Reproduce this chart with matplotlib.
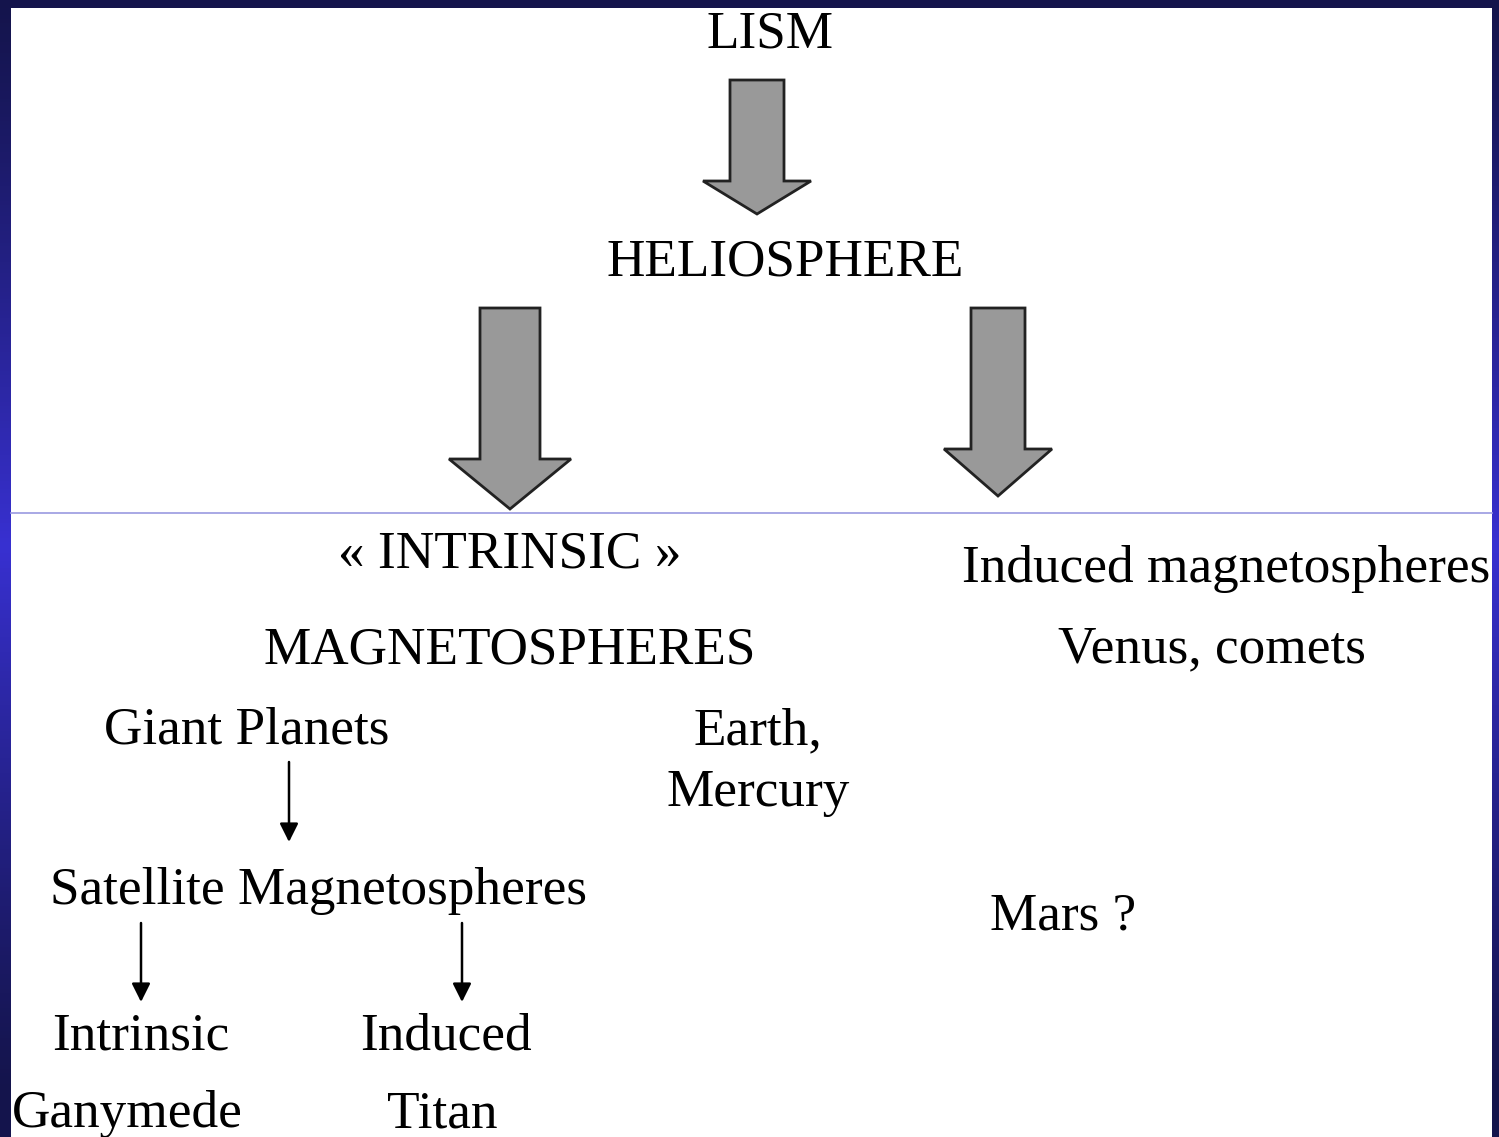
import numpy as np
import matplotlib
matplotlib.use('Agg')
import matplotlib.pyplot as plt
from matplotlib.patches import Polygon, Rectangle

W, H = 1499, 1137
plt.rcParams['font.family'] = ['Liberation Serif', 'DejaVu Serif']

# text labels: (text, x, y_baseline, ha)
labels = [
    ("LISM", 770, 47, 'center'),
    ("HELIOSPHERE", 785, 275, 'center'),
    ("« INTRINSIC »", 510, 567, 'center'),
    ("MAGNETOSPHERES", 510, 664, 'center'),
    ("Giant Planets", 104, 744, 'left'),
    ("Earth,", 694, 744, 'left'),
    ("Mercury", 667, 806, 'left'),
    ("Satellite Magnetospheres", 50, 904, 'left'),
    ("Intrinsic", 52, 1049, 'left'),
    ("Induced", 360, 1049, 'left'),
    ("Ganymede", 12, 1127, 'left'),
    ("Titan", 387, 1127, 'left'),
    ("Induced magnetospheres", 962, 582, 'left'),
    ("Venus, comets", 1058, 662, 'left'),
    ("Mars ?", 990, 929, 'left'),
]

# block arrows: (x_center, top, head_base, tip, shaft_halfwidth, head_halfwidth)
block_arrows = [
    (757, 80, 181, 214, 27, 54),
    (510, 308, 459, 509, 30, 61),
    (998, 308, 449, 496, 27, 54),
]

# thin arrows: (x, y_start, y_end)
thin_arrows = [
    (289, 762, 842),
    (141, 923, 1002),
    (462, 923, 1002),
]

fig = plt.figure(figsize=(W / 100, H / 100), dpi=100)
ax = fig.add_axes([0, 0, 1, 1])
ax.set_xlim(0, W)
ax.set_ylim(H, 0)
ax.axis('off')

# vertical blue gradient: dark at top and bottom, bright in the middle
y = np.linspace(0, 1, 300)
t = np.clip(1 - np.abs(y - 0.48) / 0.48, 0, 1) ** 1.2
dark = np.array([0.08, 0.08, 0.30])
bright = np.array([0.22, 0.19, 0.82])
col = dark[None, :] * (1 - t[:, None]) + bright[None, :] * t[:, None]
grad = np.repeat(col[:, None, :], 2, axis=1)
ax.imshow(grad, extent=[0, W, H, 0], aspect='auto', zorder=0)

ax.add_patch(Rectangle((11, 8), 1481, H, facecolor='white', edgecolor='none', zorder=1))
ax.plot([11, 1492], [513, 513], color='#9a9ae0', lw=1.2, zorder=2)

for xc, y0, yb, ytip, sw, hw in block_arrows:
    pts = [(xc - sw, y0), (xc + sw, y0), (xc + sw, yb), (xc + hw, yb),
           (xc, ytip), (xc - hw, yb), (xc - sw, yb)]
    ax.add_patch(Polygon(pts, closed=True, facecolor='#999999', edgecolor='#222222',
                         lw=2, joinstyle='miter', zorder=3))

for x, y0, y1 in thin_arrows:
    ax.annotate('', xy=(x, y1), xytext=(x, y0),
                arrowprops=dict(arrowstyle='-|>', color='black', lw=1.8,
                                mutation_scale=28, shrinkA=0, shrinkB=0), zorder=3)

for txt, x, yb, ha in labels:
    ax.text(x, yb, txt, ha=ha, va='baseline', fontsize=38.3, color='black', zorder=4)

fig.savefig('out.png', dpi=100)
